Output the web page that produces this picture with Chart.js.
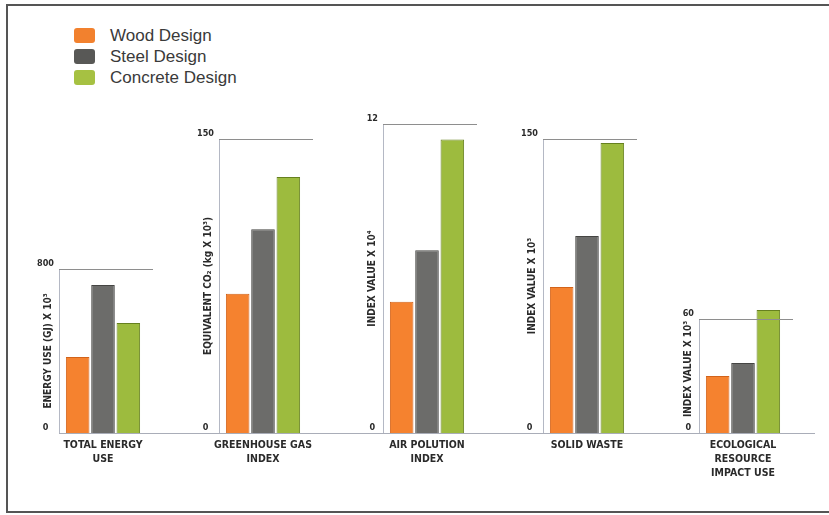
<!DOCTYPE html>
<html lang="en">
  <head>
    <meta charset="UTF-8">
    <title>Design comparison</title>
    <script src="https://cdn.jsdelivr.net/npm/chart.js"></script>
    <style>
      html, body { margin: 0; padding: 0; background: #fff; }
      body { width: 829px; height: 515px; position: relative; overflow: hidden; font-family: "Liberation Sans", Arial, sans-serif; }
      #frame { position: absolute; left: 6px; top: 4px; width: 850px; height: 505px; border: 2px solid #555; border-right: none; }
      .panel { position: absolute; }
      #legend { position: absolute; left: 74px; top: 25px; }
      .item { position: relative; height: 21px; }
      .sw { position: absolute; left: 0; top: 3px; width: 21px; height: 15px; border-radius: 3px; }
      .lab { position: absolute; left: 36px; top: 0; font-size: 17px; line-height: 21px; color: #3a3a3a; white-space: nowrap; }
    </style>
  </head>
  <body>
    <div id="frame"></div>
    <div id="legend"></div>

    <script>
      // data
      const categories = [
        ["TOTAL ENERGY", "USE"],
        ["GREENHOUSE GAS", "INDEX"],
        ["AIR POLUTION", "INDEX"],
        ["SOLID WASTE"],
        ["ECOLOGICAL", "RESOURCE", "IMPACT USE"],
      ];
      const seriesNames = ["Wood Design", "Steel Design", "Concrete Design"];
      const wood = [371, 71, 5.1, 74.5, 30];
      const steel = [722, 104, 7.1, 100.5, 36.8];
      const concrete = [537, 130.6, 11.4, 148, 64.7];
      const yMax = [800, 150, 12, 150, 60];
      const yTitles = [
        "ENERGY USE (GJ) X 10³",
        "EQUIVALENT CO₂ (kg X 10³)",
        "INDEX VALUE X 10⁴",
        "INDEX VALUE X 10³",
        "INDEX VALUE X 10³",
      ];

      const fills = ["#f5822f", "#6c6c6a", "#9dbb3e"];
      const borders = ["#d2631a", "#454543", "#66801f"];
      const swatches = ["#f2812e", "#585856", "#a6c142"];

      // layout of the five panels (page pixels)
      const axisX = [59, 219, 383, 543, 699];
      const axisTop = [269, 139, 124, 139, 319];
      const lastRight = 815;
      const CANVAS_TOP = 100, CANVAS_H = 400, BASE_Y = 433;
      const YAXIS_W = 40, XAXIS_H = 50, AREA_W = 88, TOPLINE_W = 94;
      const narrow = '"Liberation Sans Narrow", "DejaVu Sans Condensed", Arial, sans-serif';

      // legend
      const legend = document.getElementById("legend");
      seriesNames.forEach((name, i) => {
        const row = document.createElement("div");
        row.className = "item";
        row.innerHTML = '<span class="sw" style="background:' + swatches[i] + '"></span><span class="lab">' + name + "</span>";
        legend.appendChild(row);
      });

      const panelLines = {
        id: "panelLines",
        afterDatasetsDraw(chart, args, opts) {
          const ctx = chart.ctx;
          const a = chart.chartArea;
          const y = chart.scales.y;
          ctx.save();
          // top line at the axis maximum
          ctx.strokeStyle = "#8e8e8e";
          ctx.lineWidth = 1;
          const ty = Math.round(y.getPixelForValue(opts.max)) + 0.5;
          ctx.beginPath();
          ctx.moveTo(a.left, ty);
          ctx.lineTo(a.left + TOPLINE_W, ty);
          ctx.stroke();
          // baseline running on to the next panel
          ctx.strokeStyle = "#a9adb8";
          const by = Math.round(a.bottom) + 0.5;
          ctx.beginPath();
          ctx.moveTo(a.left, by);
          ctx.lineTo(chart.width, by);
          ctx.stroke();
          // rotated axis title, kept clear of the 0 tick on short axes
          ctx.fillStyle = "#2a2a2a";
          ctx.font = "bold 10px " + narrow;
          ctx.textAlign = "center";
          ctx.textBaseline = "middle";
          const len = ctx.measureText(opts.title).width;
          let cy = (a.top + a.bottom) / 2;
          if (cy + len / 2 > a.bottom - 16) cy = a.bottom - 16 - len / 2;
          ctx.translate(a.left - 11, cy);
          ctx.rotate(-Math.PI / 2);
          ctx.fillText(opts.title, 0, 0);
          ctx.restore();
        },
      };

      function createPanel(i) {
        const left = axisX[i] - YAXIS_W;
        const right = i < axisX.length - 1 ? axisX[i + 1] : lastRight;
        const width = right - left;
        const canvas = document.createElement("canvas");
        canvas.className = "panel";
        canvas.width = width;
        canvas.height = CANVAS_H;
        canvas.style.left = left + "px";
        canvas.style.top = CANVAS_TOP + "px";
        canvas.style.width = width + "px";
        canvas.style.height = CANVAS_H + "px";
        document.body.appendChild(canvas);

        const values = [wood[i], steel[i], concrete[i]];
        return new Chart(canvas.getContext("2d"), {
          type: "bar",
          data: {
            labels: [categories[i]],
            datasets: seriesNames.map((name, k) => ({
              label: name,
              data: [values[k]],
              backgroundColor: fills[k],
              borderColor: borders[k],
              borderWidth: 1,
              clip: false,
            })),
          },
          options: {
            responsive: false,
            animation: false,
            categoryPercentage: 76 / AREA_W,
            barPercentage: 0.93,
            layout: {
              padding: {
                left: 0,
                top: axisTop[i] - CANVAS_TOP,
                right: width - YAXIS_W - AREA_W,
                bottom: CANVAS_H - (BASE_Y - CANVAS_TOP) - XAXIS_H,
              },
            },
            plugins: {
              legend: { display: false },
              tooltip: { enabled: false },
              panelLines: { max: yMax[i], title: yTitles[i] },
            },
            scales: {
              x: {
                grid: { display: false, drawTicks: false },
                border: { display: false },
                ticks: {
                  color: "#2a2a2a",
                  font: { family: narrow, size: 10.5, weight: "bold", lineHeight: 1.35 },
                  padding: 5,
                  maxRotation: 0,
                  autoSkip: false,
                },
                afterFit(scale) { scale.height = XAXIS_H; },
              },
              y: {
                min: 0,
                max: yMax[i],
                grid: { display: false, drawTicks: false },
                border: { display: true, color: "#b4b8c4", width: 1 },
                ticks: {
                  stepSize: yMax[i],
                  color: "#2a2a2a",
                  font: { family: narrow, size: 9, weight: "bold" },
                  padding: 5,
                  crossAlign: "center",
                  labelOffset: -5,
                },
                afterFit(scale) { scale.width = YAXIS_W; },
              },
            },
          },
          plugins: [panelLines],
        });
      }

      for (let i = 0; i < categories.length; i++) createPanel(i);
    </script>
  </body>
</html>
